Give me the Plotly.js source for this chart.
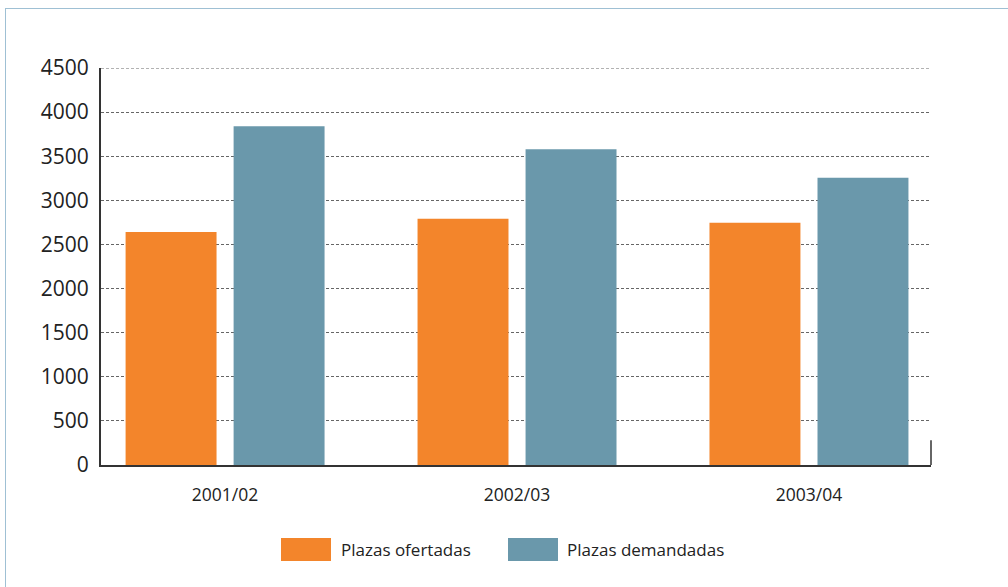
<!DOCTYPE html>
<html>
<head>
<meta charset="utf-8">
<script src="https://cdn.plot.ly/plotly-3.0.1.min.js"></script>
<style>
html,body{margin:0;padding:0;background:#fff;}
#frame{position:absolute;left:5px;top:8px;width:1010px;height:590px;border-left:1.5px solid #9fc0d4;border-top:1.5px solid #9fc0d4;}
#chart{position:absolute;left:0;top:0;width:1008px;height:587px;}
</style>
</head>
<body>
<div id="frame"></div>
<div id="chart"></div>
<script>
const categories = ["2001/02", "2002/03", "2003/04"];
const seriesNames = ["Plazas ofertadas", "Plazas demandadas"];
const ofertadas = [2640, 2790, 2745];
const demandadas = [3840, 3580, 3255];
const yTicks = [0, 500, 1000, 1500, 2000, 2500, 3000, 3500, 4000, 4500];
const colors = ["#F3852B", "#6A98AB"];

const FONT = "'Open Sans', sans-serif";

const traces = [
  {type: "bar", name: seriesNames[0], x: categories, y: ofertadas, marker: {color: colors[0]}, hoverinfo: "x+y"},
  {type: "bar", name: seriesNames[1], x: categories, y: demandadas, marker: {color: colors[1]}, hoverinfo: "x+y"}
];

const shapes = [
  // top grid line at 4500
  {type: "line", xref: "paper", yref: "y", x0: 0, x1: 1, y0: 4500, y1: 4500, line: {color: "#666", width: 1, dash: "3px,2px"}, layer: "below"},
  // right end tick of x axis
  {type: "line", xref: "paper", yref: "y", x0: 1, x1: 1, y0: 0, y1: 280, line: {color: "#333", width: 1.5}},
  // legend swatches
  {type: "rect", xref: "paper", yref: "paper", x0: (281-101)/830, x1: (331-101)/830, y0: -(538-465)/397, y1: -(561-465)/397, fillcolor: colors[0], line: {width: 0}},
  {type: "rect", xref: "paper", yref: "paper", x0: (508-101)/830, x1: (558-101)/830, y0: -(538-465)/397, y1: -(561-465)/397, fillcolor: colors[1], line: {width: 0}}
];

const annotations = [
  {xref: "paper", yref: "paper", x: (339-101)/830, y: -(549.5-465)/397, xanchor: "left", yanchor: "middle", text: seriesNames[0], showarrow: false, font: {family: FONT, size: 17, color: "#222"}},
  {xref: "paper", yref: "paper", x: (565-101)/830, y: -(549.5-465)/397, xanchor: "left", yanchor: "middle", text: seriesNames[1], showarrow: false, font: {family: FONT, size: 17, color: "#222"}}
];

const layout = {
  width: 1008, height: 587,
  margin: {l: 101, r: 77, t: 68, b: 122, pad: 0},
  paper_bgcolor: "rgba(0,0,0,0)",
  plot_bgcolor: "rgba(0,0,0,0)",
  showlegend: false,
  barmode: "group",
  bargap: 0.26,
  bargroupgap: 0.158,
  font: {family: FONT, color: "#333"},
  xaxis: {
    type: "category",
    range: [-0.425, 2.418],
    showline: true, linecolor: "#333", linewidth: 2,
    ticks: "outside", ticklen: 13, tickcolor: "rgba(0,0,0,0)",
    tickfont: {family: FONT, size: 17.5, color: "#222"},
    showgrid: false, zeroline: false, fixedrange: true
  },
  yaxis: {
    range: [0, 4500],
    tickvals: yTicks,
    ticktext: yTicks.map(String),
    showline: true, linecolor: "#333", linewidth: 2,
    ticks: "outside", ticklen: 6, tickcolor: "rgba(0,0,0,0)",
    tickfont: {family: FONT, size: 21, color: "#222"},
    showgrid: true, gridcolor: "#666", gridwidth: 1, griddash: "3px,2px",
    zeroline: false, fixedrange: true
  },
  shapes: shapes,
  annotations: annotations
};

Plotly.newPlot("chart", traces, layout, {displayModeBar: false, staticPlot: true});
</script>
</body>
</html>
